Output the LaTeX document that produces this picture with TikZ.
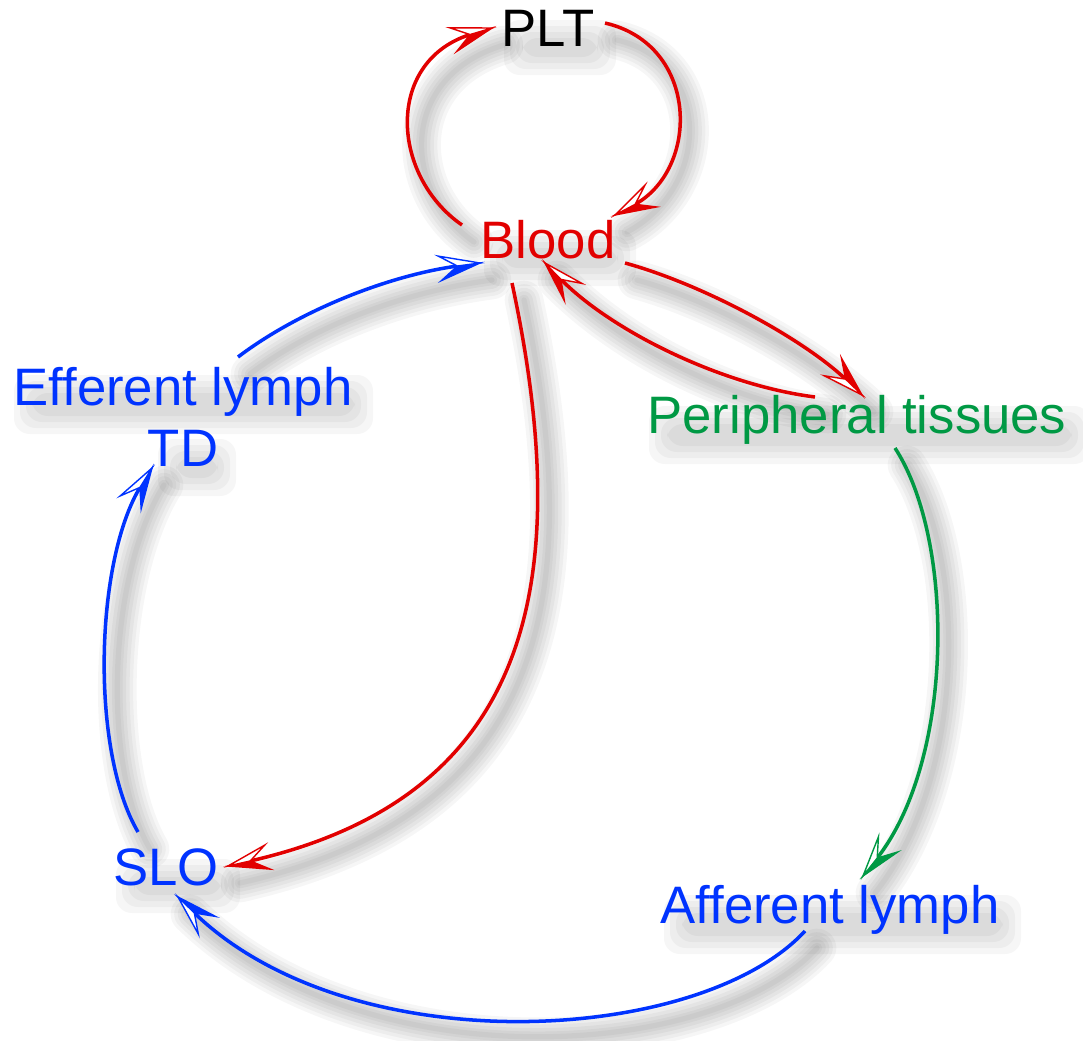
\documentclass[tikz,border=0pt]{standalone}
\usepackage{fontspec}
\setmainfont{Liberation Sans}
\usetikzlibrary{calc,arrows.meta}
\definecolor{cred}{RGB}{226,0,0}
\definecolor{cblue}{RGB}{0,51,255}
\definecolor{cgreen}{RGB}{0,153,68}

\pgfdeclarelayer{back}
\pgfdeclarelayer{bg}
\pgfsetlayers{back,bg,main}

% half-filled arrow heads: white half on the left (+y) or on the right (-y)
\pgfdeclarearrow{
  name = halfL,
  setup code = {
    \pgfarrowssettipend{0pt}
    \pgfarrowssetlineend{-12pt}
    \pgfarrowssetbackend{-23pt}
    \pgfarrowssetvisualbackend{-13pt}
  },
  drawing code = {
    \pgfsetlinewidth{0.8pt}
    \pgfsetmiterjoin
    \pgfpathmoveto{\pgfqpoint{0pt}{0pt}}
    \pgfpathlineto{\pgfqpoint{-23pt}{-7pt}}
    \pgfpathlineto{\pgfqpoint{-13pt}{0pt}}
    \pgfpathclose
    \pgfusepathqfillstroke
    \pgfsetfillcolor{white}
    \pgfpathmoveto{\pgfqpoint{0pt}{0pt}}
    \pgfpathlineto{\pgfqpoint{-23pt}{7pt}}
    \pgfpathlineto{\pgfqpoint{-13pt}{0pt}}
    \pgfpathclose
    \pgfusepathqfillstroke
  }
}
\pgfdeclarearrow{
  name = halfR,
  setup code = {
    \pgfarrowssettipend{0pt}
    \pgfarrowssetlineend{-12pt}
    \pgfarrowssetbackend{-23pt}
    \pgfarrowssetvisualbackend{-13pt}
  },
  drawing code = {
    \pgfsetlinewidth{0.8pt}
    \pgfsetmiterjoin
    \pgfpathmoveto{\pgfqpoint{0pt}{0pt}}
    \pgfpathlineto{\pgfqpoint{-23pt}{7pt}}
    \pgfpathlineto{\pgfqpoint{-13pt}{0pt}}
    \pgfpathclose
    \pgfusepathqfillstroke
    \pgfsetfillcolor{white}
    \pgfpathmoveto{\pgfqpoint{0pt}{0pt}}
    \pgfpathlineto{\pgfqpoint{-23pt}{-7pt}}
    \pgfpathlineto{\pgfqpoint{-13pt}{0pt}}
    \pgfpathclose
    \pgfusepathqfillstroke
  }
}

\tikzset{
  lbl/.style={font=\fontsize{30}{35}\selectfont, inner sep=0pt, align=center},
  shadowpart/.style={preaction={draw=black, opacity=0.035, line width=#1, line cap=round, arrows=-,
      transform canvas={xshift=0.24cm, yshift=-0.34cm}}},
  edgeshadow/.style={shadowpart=22pt, shadowpart=18pt, shadowpart=14pt, shadowpart=10pt,
      shadowpart=6pt, shadowpart=3pt},
  conn/.style={line width=2pt, edgeshadow},
  wl/.style={conn, -halfL},
  wr/.style={conn, -halfR},
}

% soft shadow blob behind a text: corners in pixels of the reference
\newcommand\blob[4]{%
  \foreach \p in {-7,-1,5,11}{%
    \fill[black, opacity=0.035, rounded corners=9pt]
      (#1+12-\p,#2+17-\p) rectangle (#3+12+\p,#4+17+\p);
  }%
}

\begin{document}
\begin{tikzpicture}[x=0.02cm, y=-0.02cm]
  \path[use as bounding box] (0,0) rectangle (1083,1041);
  \begin{pgfonlayer}{back}
    \fill[white] (0,0) rectangle (1083,1041);
  \end{pgfonlayer}

  % connector end points
  \coordinate (bl1) at (462,225);
  \coordinate (pl1) at (492,28);
  \coordinate (pl2) at (605,23);
  \coordinate (bl2) at (615,215);
  \coordinate (bl3) at (625,263);
  \coordinate (pe3) at (862,395);
  \coordinate (pe4) at (815,397);
  \coordinate (bl4) at (545,263);
  \coordinate (bl5) at (512,283);
  \coordinate (sl5) at (228,866);
  \coordinate (sl6) at (138,832);
  \coordinate (ef6) at (152,468);
  \coordinate (ef7) at (238,357);
  \coordinate (bl7) at (480,263);
  \coordinate (af8) at (805,931);
  \coordinate (sl8) at (178,897);
  \coordinate (pe9) at (895,448);
  \coordinate (af9) at (863,876);

  % connectors
  \draw[wl, cred] (bl1) .. controls (390,175) and (385,60) .. (pl1);
  \draw[wr, cred] (pl2) .. controls (700,45) and (700,170) .. (bl2);
  \draw[wr, cred] (bl3) .. controls (705,285) and (805,340) .. (pe3);
  \draw[wr, cred] (pe4) .. controls (720,385) and (610,330) .. (bl4);
  \draw[wr, cred] (bl5) .. controls (580,600) and (520,800) .. (sl5);
  \draw[wl, cblue] (sl6) .. controls (90,750) and (95,560) .. (ef6);
  \draw[wl, cblue] (ef7) .. controls (300,310) and (390,275) .. (bl7);
  \draw[wl, cblue] (af8) .. controls (700,1045) and (350,1065) .. (sl8);
  \draw[wr, cgreen] (pe9) .. controls (955,540) and (955,760) .. (af9);

  % labels
  \node[lbl, anchor=base, text=black] (plt) at (548,47) {PLT};
  \node[lbl, anchor=base, text=cred] (blood) at (548,258) {Blood};
  \node[lbl, anchor=base, text=cgreen] (periph) at (857,433) {Peripheral tissues};
  \node[lbl, anchor=center, text=cblue] (eff) at (183,417) {Efferent lymph\\TD};
  \node[lbl, anchor=base, text=cblue] (slo) at (166,885) {SLO};
  \node[lbl, anchor=base, text=cblue] (aff) at (830,923) {Afferent lymph};

  % text shadows
  \begin{pgfonlayer}{bg}
    \clip (0,0) rectangle (1083,1041);
    \blob{503}{14}{593}{47}
    \blob{483}{224}{613}{258}
    \blob{648}{400}{1067}{436}
    \blob{13}{369}{350}{406}
    \blob{157}{433}{213}{468}
    \blob{115}{853}{217}{885}
    \blob{663}{889}{998}{926}
  \end{pgfonlayer}
\end{tikzpicture}
\end{document}
